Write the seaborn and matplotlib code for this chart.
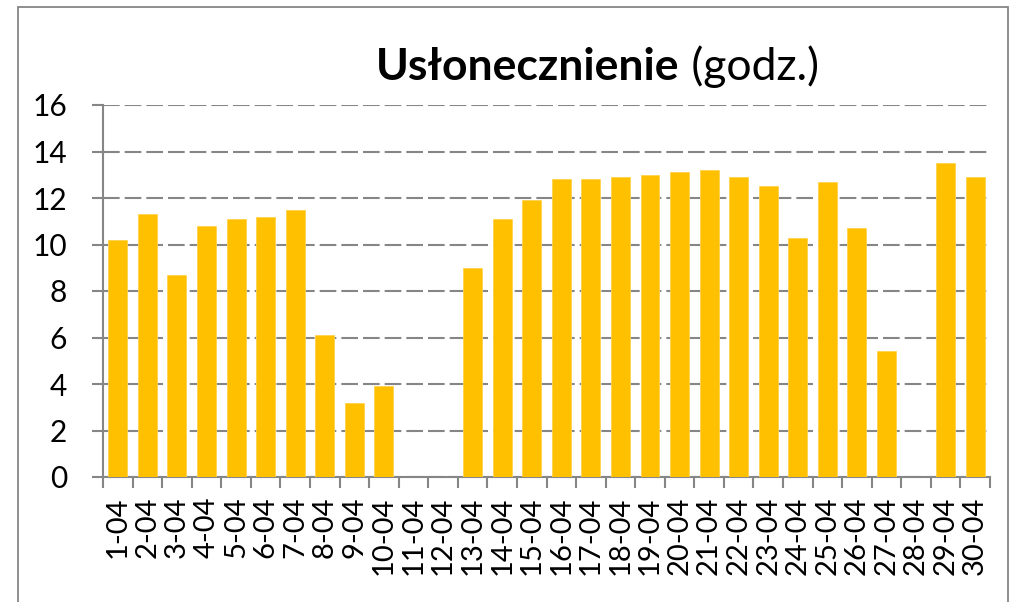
import numpy as np
import pandas as pd
import matplotlib
matplotlib.use("Agg")
import matplotlib.pyplot as plt
from matplotlib.patches import Rectangle
from matplotlib.ticker import FixedLocator
import seaborn as sns

days = [f"{d}-04" for d in range(1, 31)]
hours = [10.2, 11.3, 8.7, 10.8, 11.1, 11.2, 11.5, 6.1, 3.2, 3.9,
         np.nan, np.nan, 9.0, 11.1, 11.9, 12.8, 12.8, 12.9, 13.0, 13.1,
         13.2, 12.9, 12.5, 10.3, 12.7, 10.7, 5.4, np.nan, 13.5, 12.9]
yticks = [0, 2, 4, 6, 8, 10, 12, 14, 16]
title_bold = "Usłonecznienie"
title_rest = " (godz.)"

sns.set_theme(style="white")
plt.rcParams["font.family"] = ["Lato", "DejaVu Sans"]

W, H = 1013, 602
fig = plt.figure(figsize=(W / 100, H / 100), dpi=100)
ax = fig.add_axes([103 / W, 1 - 477 / H, (990 - 103) / W, (477 - 105) / H])

df = pd.DataFrame({"day": days, "hours": hours})
sns.barplot(data=df, x="day", y="hours", order=days, color="#FFC000",
            saturation=1, width=0.64, errorbar=None, ax=ax, zorder=3)
for p in ax.patches:
    p.set_edgecolor("#FFD24D")
    p.set_linewidth(0.6)

grey = "#868686"
ax.set_xlim(-0.5, len(days) - 0.5)
ax.set_ylim(0, 16)
ax.set_yticks(yticks)
ax.set_yticklabels([str(t) for t in yticks])
ax.set_xlabel("")
ax.set_ylabel("")

ax.yaxis.grid(True, color=grey, linewidth=1.5, linestyle=(0, (8, 2.4)), zorder=0)
ax.xaxis.grid(False)
for s in ["top", "right"]:
    ax.spines[s].set_visible(False)
for s in ["left", "bottom"]:
    ax.spines[s].set_color(grey)
    ax.spines[s].set_linewidth(1.5)
ax.spines["left"].set_zorder(1)

ax.tick_params(axis="y", which="major", direction="out", length=8, width=1.5,
               color=grey, pad=18, labelsize=21.5, labelcolor="black", left=True)
ax.tick_params(axis="x", which="major", length=0, pad=14, labelsize=21,
               labelcolor="black", labelrotation=90)
ax.xaxis.set_minor_locator(FixedLocator(np.arange(-0.5, len(days), 1.0)))
ax.tick_params(axis="x", which="minor", direction="out", length=8, width=1.5,
               color=grey, bottom=True)
for lbl in ax.get_xticklabels():
    lbl.set_va("top")

# chart border
fig.patches.append(Rectangle((18 / W, -0.05), (1008 - 18) / W, 1.05 - 7 / H,
                             transform=fig.transFigure, fill=False,
                             edgecolor=grey, linewidth=1.3))

# title with mixed weights
base_y = 1 - 80 / H
t1 = fig.text(376 / W, base_y, title_bold, fontsize=32, fontweight="bold",
              ha="left", va="baseline", color="black")
fig.canvas.draw()
bb = t1.get_window_extent()
fig.text(bb.x1 / W, base_y, title_rest, fontsize=32, fontweight="normal",
         ha="left", va="baseline", color="black")

fig.savefig("out.png", dpi=100)
